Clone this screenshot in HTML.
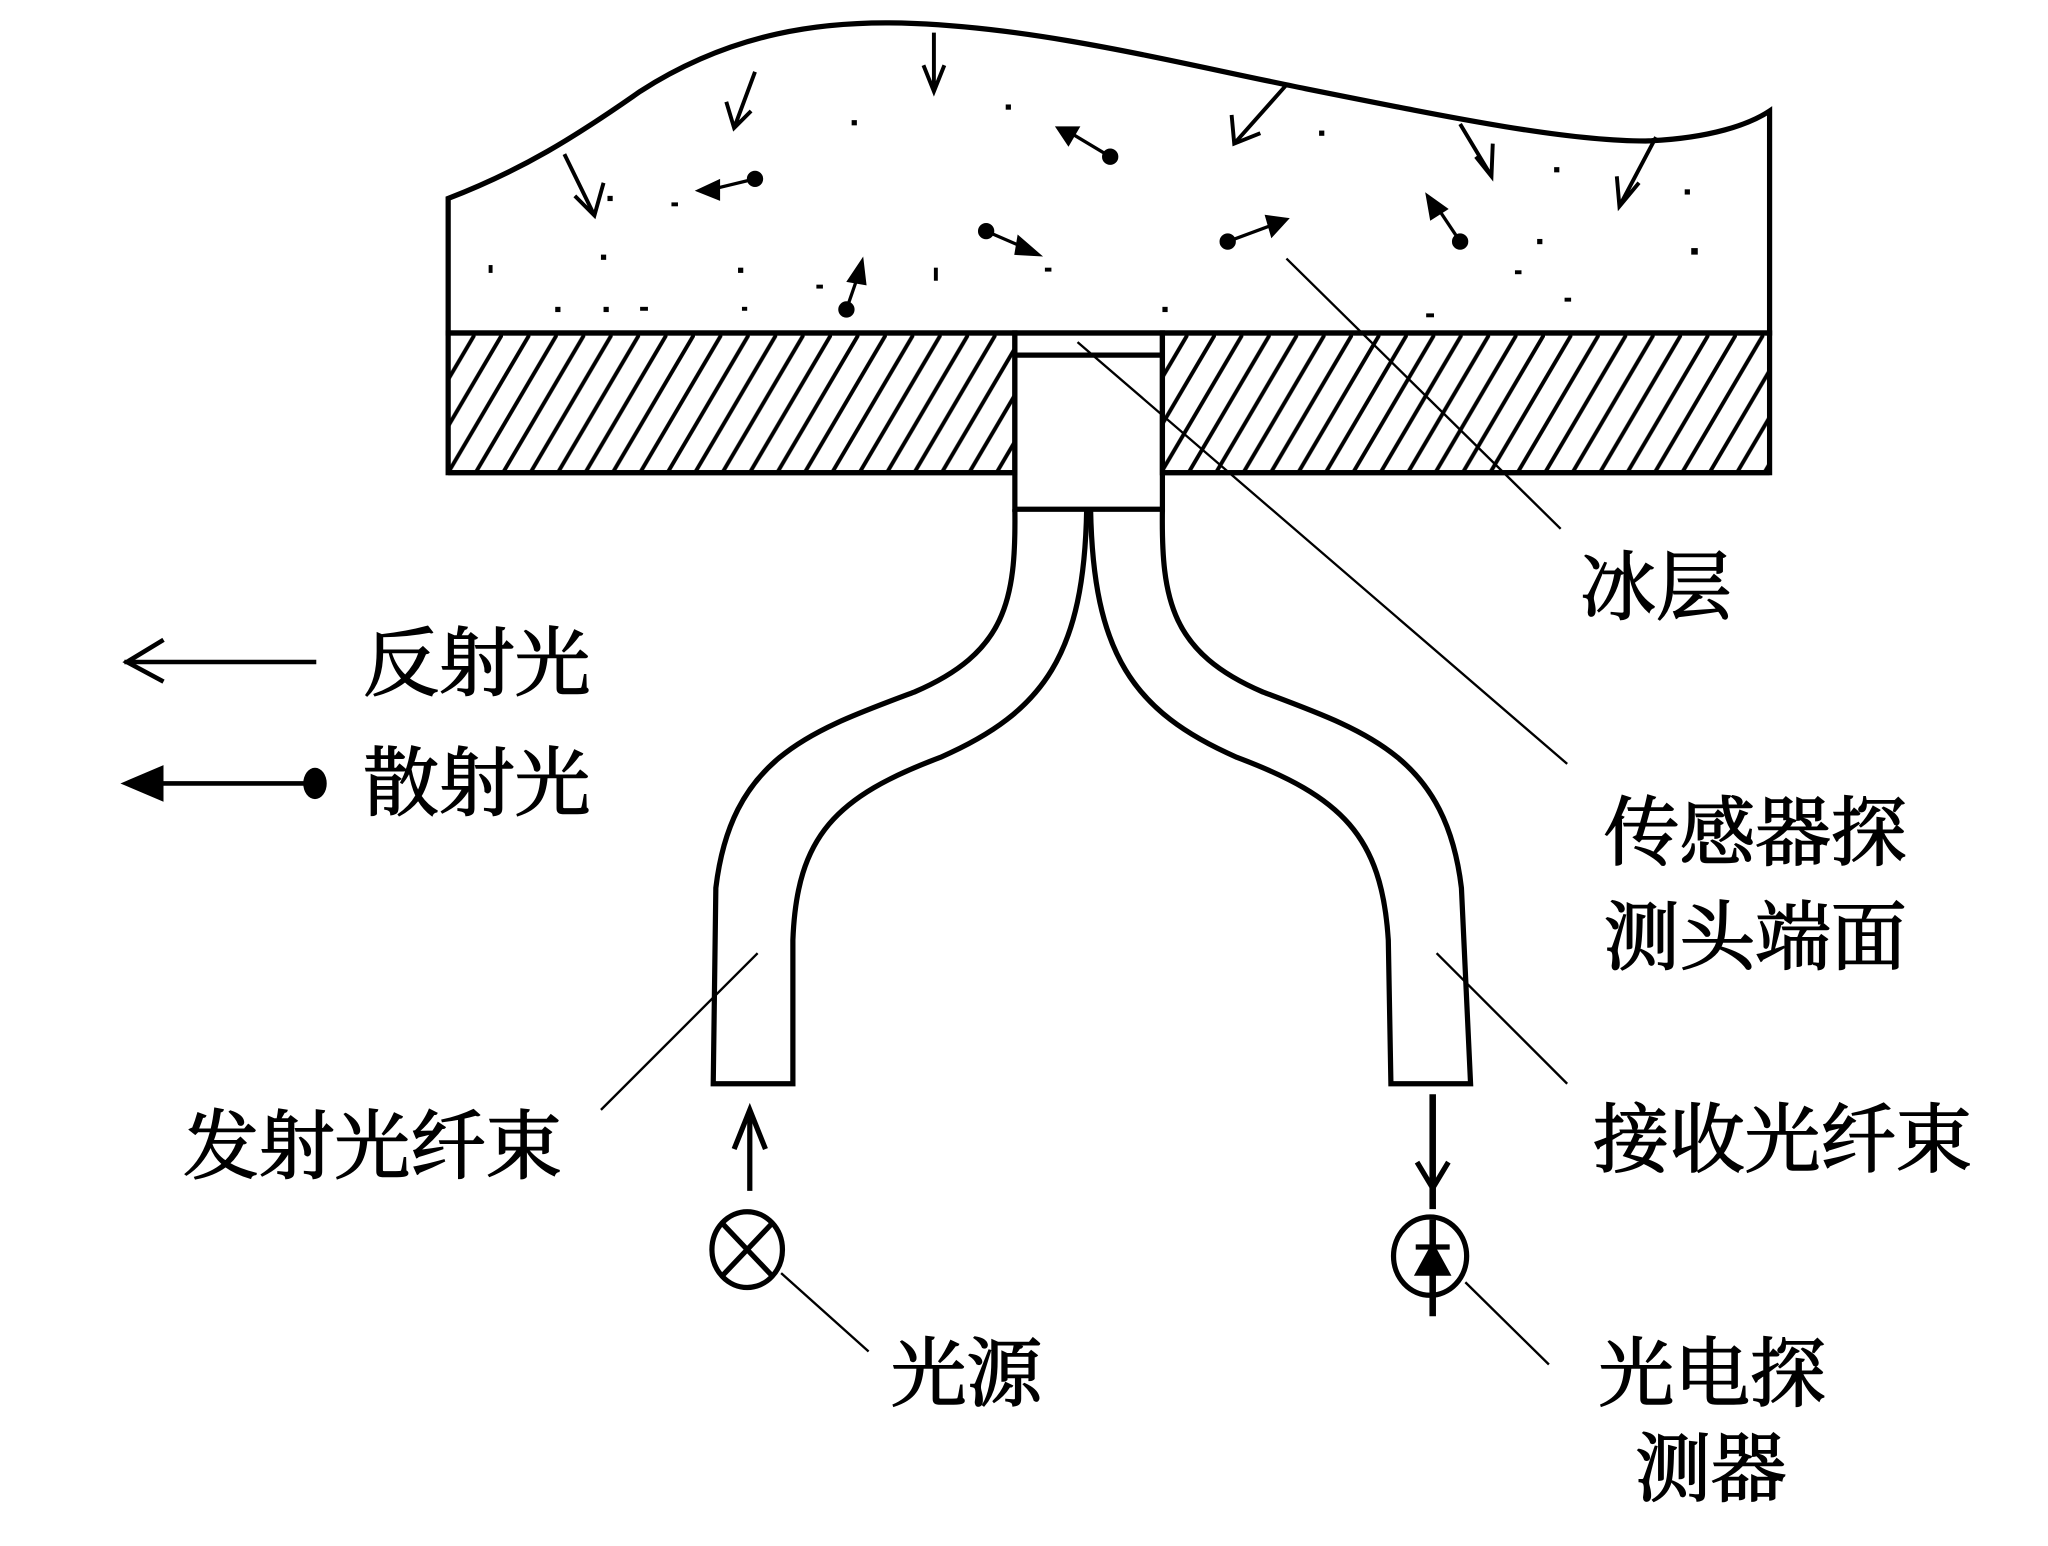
<!DOCTYPE html>
<html><head><meta charset="utf-8"><style>
html,body{margin:0;padding:0;background:#fff;}
svg{display:block;}
text{font-family:"Liberation Serif","Noto Serif CJK SC",serif;font-size:58px;fill:#000;stroke:#000;stroke-width:1.2px;}
</style></head><body>
<svg width="2048" height="1546" viewBox="0 0 1568 1184" xmlns="http://www.w3.org/2000/svg">
<defs>
<pattern id="h" width="21" height="107" patternUnits="userSpaceOnUse" x="343" y="255">
<line x1="-42" y1="107" x2="21" y2="0" stroke="#000" stroke-width="3"/>
<line x1="-21" y1="107" x2="42" y2="0" stroke="#000" stroke-width="3"/>
<line x1="0" y1="107" x2="63" y2="0" stroke="#000" stroke-width="3"/>
<line x1="21" y1="107" x2="84" y2="0" stroke="#000" stroke-width="3"/>
</pattern>
</defs>
<g fill="none" stroke="#000" stroke-width="4">
<path d="M343,255 L343,152 C400,130 440,105 490,70 C560,25 630,15 700,18 C800,22 900,48 1000,68 C1120,92 1200,108 1260,108 C1310,106 1340,95 1355,85 L1355,255 Z"/>
<rect x="343" y="255" width="434" height="107" fill="url(#h)"/>
<rect x="890" y="255" width="465" height="107" fill="url(#h)"/>
<line x1="343" y1="362" x2="777" y2="362"/>
<line x1="890" y1="362" x2="1355" y2="362"/>
<rect x="777" y="255" width="113" height="135"/>
<line x1="777" y1="272" x2="890" y2="272"/>
<path d="M777,390 C778,460 770,500 700,530 C620,560 560,580 548,680 L546,830 L607,830 L607,720 C610,640 640,610 720,580 C800,545 830,500 832,390"/>
<path d="M890,390 C889,460 897,500 967,530 C1047,560 1107,580 1119,680 L1126,830 L1065,830 L1063,720 C1058,640 1027,610 947,580 C867,545 837,500 835,390"/>
</g>
<g fill="none" stroke="#000" stroke-width="3">
<path d="M432,118 L455,165 M440,150 L455,165 L462,140"/>
<path d="M578,55 L562,98 M556,78 L562,98 L575,85"/>
<path d="M715,25 L715,70 M707,50 L715,70 L723,50"/>
<path d="M985,65 L945,110 M943,88 L945,110 L965,102"/>
<path d="M1118,95 L1142,135 M1130,120 L1142,135 L1143,110"/>
<path d="M1268,105 L1240,158 M1238,135 L1240,158 L1255,140"/>
</g>
<g stroke="#000" stroke-width="2.5" fill="#000">
<line x1="578" y1="137" x2="545" y2="145"/><circle cx="578" cy="137" r="5"/><path d="M535,146 L550,139 L550,152 Z"/>
<line x1="850" y1="120" x2="820" y2="102"/><circle cx="850" cy="120" r="5"/><path d="M810,98 L825,98 L818,110 Z"/>
<line x1="755" y1="177" x2="785" y2="190"/><circle cx="755" cy="177" r="5"/><path d="M795,195 L780,182 L778,194 Z"/>
<line x1="940" y1="185" x2="975" y2="172"/><circle cx="940" cy="185" r="5"/><path d="M985,168 L970,166 L974,180 Z"/>
<line x1="1118" y1="185" x2="1100" y2="158"/><circle cx="1118" cy="185" r="5"/><path d="M1093,150 L1096,167 L1107,160 Z"/>
<line x1="648" y1="237" x2="658" y2="208"/><circle cx="648" cy="237" r="5"/><path d="M660,200 L650,215 L662,217 Z"/>
</g>
<g fill="#000">
<rect x="465" y="150" width="4" height="4"/><rect x="514" y="155" width="5" height="3"/><rect x="652" y="92" width="4" height="4"/>
<rect x="460" y="195" width="4" height="4"/><rect x="425" y="235" width="4" height="4"/><rect x="462" y="235" width="4" height="4"/>
<rect x="490" y="235" width="6" height="3"/><rect x="565" y="205" width="4" height="4"/><rect x="625" y="218" width="5" height="3"/>
<rect x="715" y="205" width="3" height="10"/><rect x="890" y="235" width="4" height="4"/><rect x="1010" y="100" width="4" height="4"/>
<rect x="1177" y="183" width="4" height="4"/><rect x="1160" y="207" width="5" height="3"/><rect x="1190" y="128" width="4" height="4"/>
<rect x="1295" y="190" width="5" height="5"/><rect x="1092" y="240" width="6" height="3"/><rect x="1198" y="228" width="5" height="3"/>
<rect x="374" y="203" width="3" height="6"/><rect x="800" y="205" width="5" height="3"/><rect x="568" y="235" width="4" height="3"/>
<rect x="770" y="80" width="4" height="4"/><rect x="1290" y="145" width="4" height="4"/>
</g>
<g stroke="#000" stroke-width="1.8" fill="none">
<line x1="985" y1="198" x2="1195" y2="405"/>
<line x1="825" y1="262" x2="1200" y2="585"/>
<line x1="580" y1="730" x2="460" y2="850"/>
<line x1="1100" y1="730" x2="1200" y2="830"/>
<line x1="598" y1="975" x2="665" y2="1035"/>
<line x1="1122" y1="982" x2="1186" y2="1045"/>
</g>
<g stroke="#000" stroke-width="3.5" fill="none">
<line x1="95" y1="507" x2="242" y2="507"/>
<path d="M125,490 L97,507 L125,522"/>
<line x1="105" y1="600" x2="240" y2="600"/>
</g>
<path d="M92,600 L125,586 L125,614 Z" fill="#000"/>
<ellipse cx="241" cy="600" rx="9" ry="12" fill="#000"/>
<g stroke="#000" stroke-width="4" fill="none">
<ellipse cx="572" cy="957" rx="27" ry="29"/>
<line x1="553" y1="937" x2="591" y2="977"/><line x1="591" y1="937" x2="553" y2="977"/>
<line x1="574" y1="912" x2="574" y2="850"/>
<path d="M562,880 L574,850 L586,880"/>
<ellipse cx="1095" cy="962" rx="28" ry="30"/>
<line x1="1097" y1="838" x2="1097" y2="926" stroke-width="5"/>
<line x1="1097" y1="934" x2="1097" y2="1008" stroke-width="5"/>
<path d="M1085,890 L1097,910 L1109,890"/>
<line x1="1084" y1="955" x2="1110" y2="955"/>
<path d="M1086,975 L1097,955 L1108,975 Z" fill="#000"/>
</g>
<text x="1210" y="470">冰层</text>
<text x="278" y="528">反射光</text>
<text x="278" y="620">散射光</text>
<text x="1228" y="658">传感器探</text>
<text x="1228" y="738">测头端面</text>
<text x="140" y="898">发射光纤束</text>
<text x="1220" y="893">接收光纤束</text>
<text x="682" y="1072">光源</text>
<text x="1224" y="1072">光电探</text>
<text x="1252" y="1145">测器</text>
</svg>
</body></html>
